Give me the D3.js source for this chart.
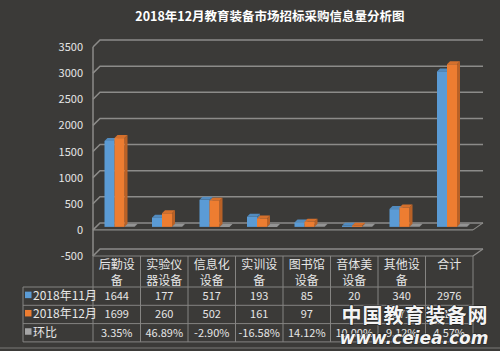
<!DOCTYPE html>
<html>
<head>
<meta charset="utf-8">
<script src="https://cdn.jsdelivr.net/npm/d3@7/dist/d3.min.js"></script>
<style>
  html, body { margin: 0; padding: 0; background: #3b3a38; }
  svg { display: block; font-family: "Noto Sans CJK SC", "Noto Sans", sans-serif; }
</style>
</head>
<body>
<svg width="500" height="351"></svg>
<script>
    const categories = ["后勤设备", "实验仪器设备", "信息化设备", "实训设备", "图书馆设备", "音体美设备", "其他设备", "合计"];
    const seriesNames = ["2018年11月", "2018年12月", "环比"];
    const nov = [1644, 177, 517, 193, 85, 20, 340, 2976];
    const dec = [1699, 260, 502, 161, 97, 22, 371, 3112];
    const ratio = [0.0335, 0.4689, -0.0290, -0.1658, 0.1412, 0.1000, 0.0912, 0.0457];
    const yTicks = [-500, 0, 500, 1000, 1500, 2000, 2500, 3000, 3500];

    const colors = ["#5b9bd5", "#ed7d31", "#a5a5a5"];
    const svg = d3.select("svg");
    const bg = "#3b3a38";
    const lineCol = "#8c8b89";
    const textCol = "#e6e6e6";

    svg.append("rect").attr("width", 500).attr("height", 351).attr("fill", bg);

    // title
    svg.append("text")
      .attr("x", 270).attr("y", 21)
      .attr("text-anchor", "middle")
      .attr("font-size", "12.5px")
      .attr("font-weight", "bold")
      .attr("fill", "#ffffff")
      .text("2018年12月教育装备市场招标采购信息量分析图");

    const left = 93, right = 473;
    const y = d3.scaleLinear().domain([-500, 3500]).range([256, 47]);
    const x = d3.scaleBand().domain(categories).range([left, right]).padding(0);
    const xs = d3.scaleBand().domain(seriesNames).range([8.5, 38.5]).padding(0);
    const dep = 7; // back wall offset

    // walls / gridlines
    const grid = svg.append("g").attr("stroke", lineCol).attr("fill", "none");
    yTicks.forEach(t => {
      grid.append("path")
        .attr("stroke-width", 1.5)
        .attr("d", `M${left},${y(t)} L${left + dep},${y(t) - dep} L${right + 10},${y(t) - dep}`);
    });
    grid.append("line").attr("stroke-width", 1.5)
      .attr("x1", left).attr("x2", left).attr("y1", y(3500)).attr("y2", y(-500));
    // floor front edge
    grid.append("line").attr("stroke-width", 1.2)
      .attr("x1", left).attr("x2", right).attr("y1", y(0)).attr("y2", y(0));
    grid.append("line").attr("stroke-width", 1.2)
      .attr("x1", right).attr("x2", right + 10).attr("y1", y(0)).attr("y2", y(0) - dep);
    grid.append("line").attr("stroke-width", 1.2)
      .attr("x1", right).attr("x2", right + 10).attr("y1", y(-500)).attr("y2", y(-500) - dep);

    // y labels
    svg.append("g").selectAll("text")
      .data(yTicks)
      .join("text")
        .attr("x", 83).attr("y", d => y(d) + 4)
        .attr("text-anchor", "end")
        .attr("font-size", "11px")
        .attr("fill", textCol)
        .text(d => d);

    // 3d bars
    const rows = categories.map((c, i) => ({ c, vals: [nov[i], dec[i], ratio[i]] }));
    const o1 = 3, o2 = 6; // front / back offsets of bar
    const bars = svg.append("g");
    rows.forEach(r => {
      r.vals.forEach((v, k) => {
        const x0 = x(r.c) + xs(seriesNames[k]) + o1;
        const w = xs.bandwidth();
        const yt = y(Math.max(v, 0)) - o1;
        const yb = y(Math.min(v, 0)) - o1;
        const d = o2 - o1;
        const base = d3.color(colors[k]);
        // side
        bars.append("path")
          .attr("d", `M${x0 + w},${yt} L${x0 + w + d},${yt - d} L${x0 + w + d},${yb - d} L${x0 + w},${yb} Z`)
          .attr("fill", base.darker(0.7));
        // top
        bars.append("path")
          .attr("d", `M${x0},${yt} L${x0 + d},${yt - d} L${x0 + w + d},${yt - d} L${x0 + w},${yt} Z`)
          .attr("fill", base.darker(0.3));
        // front
        bars.append("rect")
          .attr("x", x0).attr("y", yt)
          .attr("width", w).attr("height", Math.max(yb - yt, 0))
          .attr("fill", base);
      });
    });

    // data table
    const tTop = 256, r1 = 287, rh = 18.3, tBot = r1 + 3 * rh;
    const tbl = svg.append("g").attr("stroke", "#858482").attr("stroke-width", 1).attr("fill", "none");
    tbl.append("line").attr("x1", left).attr("x2", right).attr("y1", tTop).attr("y2", tTop);
    [0, 1, 2, 3].forEach(i => {
      tbl.append("line").attr("x1", 23).attr("x2", right)
        .attr("y1", r1 + i * rh).attr("y2", r1 + i * rh);
    });
    tbl.append("line").attr("x1", 23).attr("x2", 23).attr("y1", r1).attr("y2", tBot);
    categories.forEach(c => {
      tbl.append("line").attr("x1", x(c)).attr("x2", x(c)).attr("y1", tTop).attr("y2", tBot);
    });
    tbl.append("line").attr("x1", right).attr("x2", right).attr("y1", tTop).attr("y2", tBot);

    const wrap = s => s.length <= 3 ? [s] : [s.slice(0, 3), s.slice(3)];
    categories.forEach(c => {
      wrap(c).forEach((ln, j) => {
        svg.append("text")
          .attr("x", x(c) + x.bandwidth() / 2)
          .attr("y", 269 + j * 16)
          .attr("text-anchor", "middle")
          .attr("font-size", "12px")
          .attr("fill", textCol)
          .text(ln);
      });
    });

    const fmtPct = v => (v * 100).toFixed(2) + "%";
    const tableRows = [nov, dec, ratio];
    tableRows.forEach((vals, k) => {
      const cy = r1 + k * rh + rh / 2 + 4;
      svg.append("rect")
        .attr("x", 25).attr("y", cy - 8.5)
        .attr("width", 6.5).attr("height", 6.5)
        .attr("fill", colors[k]);
      svg.append("text")
        .attr("x", 33).attr("y", cy)
        .attr("font-size", "12px")
        .attr("fill", textCol)
        .text(seriesNames[k]);
      vals.forEach((v, i) => {
        svg.append("text")
          .attr("x", x(categories[i]) + x.bandwidth() / 2)
          .attr("y", cy)
          .attr("text-anchor", "middle")
          .attr("font-size", "11px")
          .attr("fill", textCol)
          .text(k === 2 ? fmtPct(v) : v);
      });
    });

    // bottom frame line
    svg.append("line").attr("x1", 0).attr("x2", 500).attr("y1", 348).attr("y2", 348)
      .attr("stroke", "#5a5957").attr("stroke-width", 2);

    // watermark
    svg.append("text")
      .attr("x", 415).attr("y", 323)
      .attr("text-anchor", "middle")
      .attr("font-size", "20px")
      .attr("font-weight", "bold")
      .attr("fill", "#f4f4f4")
      .attr("stroke", "#222")
      .attr("stroke-width", 1.2)
      .attr("paint-order", "stroke")
      .attr("letter-spacing", "1px")
      .text("中国教育装备网");
    svg.append("text")
      .attr("x", 414).attr("y", 344)
      .attr("text-anchor", "middle")
      .attr("font-family", "DejaVu Sans")
      .attr("font-size", "17px")
      .attr("font-weight", "bold")
      .attr("font-style", "italic")
      .attr("fill", "#f4f4f4")
      .attr("stroke", "#222")
      .attr("stroke-width", 1.2)
      .attr("paint-order", "stroke")
      .text("www.ceiea.com");
</script>
</body>
</html>
